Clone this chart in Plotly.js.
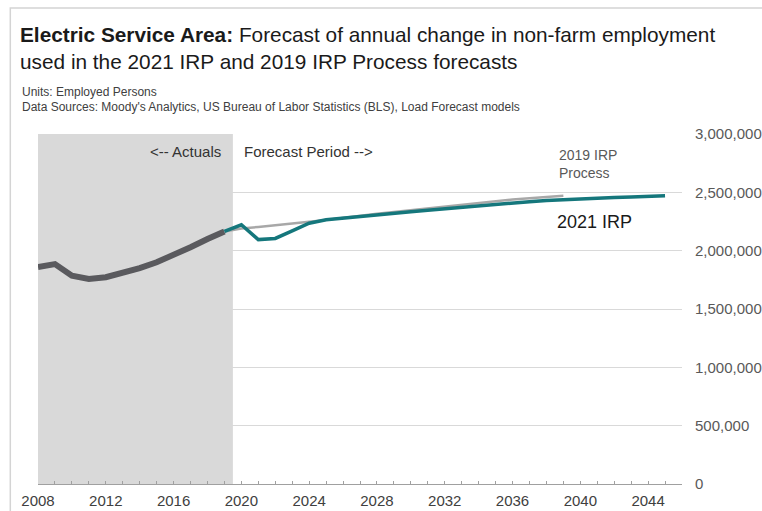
<!DOCTYPE html>
<html>
<head>
<meta charset="utf-8">
<script src="https://cdn.plot.ly/plotly-3.0.1.min.js"></script>
<style>
  html, body { margin: 0; padding: 0; background: #ffffff; }
  #chart { width: 762px; height: 511px; }
</style>
</head>
<body>
<div id="chart"></div>
<script>
// ---- Data ----
const actualYears = [2008, 2009, 2010, 2011, 2012, 2013, 2014, 2015, 2016, 2017, 2018, 2019];
const actualValues = [1860000, 1885000, 1785000, 1757000, 1772000, 1805000, 1850000, 1900000, 1960000, 2030000, 2100000, 2165000];

const irp2021Years = [2019, 2020, 2021, 2022, 2023, 2024, 2025, 2026, 2027, 2028, 2029, 2030, 2031, 2032,
  2033, 2034, 2035, 2036, 2037, 2038, 2039, 2040, 2041, 2042, 2043, 2044, 2045];
const irp2021Values = [2165000, 2222000, 2095000, 2105000, 2170000, 2235000, 2265000, 2280000, 2293000, 2306000,
  2320000, 2334000, 2347000, 2360000, 2373000, 2386000, 2398000, 2410000, 2420000, 2429000, 2437000, 2444000,
  2450000, 2455000, 2460000, 2465000, 2470000];

const irp2019Years = [2019, 2020, 2021, 2022, 2023, 2024, 2025, 2026, 2027, 2028, 2029, 2030, 2031, 2032,
  2033, 2034, 2035, 2036, 2037, 2038, 2039];
const irp2019Values = [2165000, 2190000, 2203000, 2216000, 2231000, 2247000, 2264000, 2283000, 2300000, 2316000,
  2332000, 2348000, 2364000, 2380000, 2395000, 2410000, 2424000, 2438000, 2450000, 2461000, 2470000];

const actualsEndYear = 2019.5;   // boundary of the shaded "Actuals" period
const xTickVals = [2008, 2012, 2016, 2020, 2024, 2028, 2032, 2036, 2040, 2044];
const xTickText = ['2008', '2012', '2016', '2020', '2024', '2028', '2032', '2036', '2040', '2044'];
const yTickVals = [0, 500000, 1000000, 1500000, 2000000, 2500000, 3000000];

const FONT = 'Arial, "Liberation Sans", sans-serif';

const traces = [
  {
    x: actualYears, y: actualValues, type: 'scatter', mode: 'lines', name: 'Actuals',
    line: { color: '#5a5a5e', width: 6 }, hoverinfo: 'skip'
  },
  {
    x: irp2019Years, y: irp2019Values, type: 'scatter', mode: 'lines', name: '2019 IRP Process',
    line: { color: '#a8a8a8', width: 2.5 }, hoverinfo: 'skip'
  },
  {
    x: irp2021Years, y: irp2021Values, type: 'scatter', mode: 'lines', name: '2021 IRP',
    line: { color: '#15777c', width: 3.5 }, hoverinfo: 'skip'
  }
];

const layout = {
  width: 762, height: 511,
  margin: { l: 37.5, r: 80, t: 134, b: 27 },
  paper_bgcolor: '#ffffff',
  plot_bgcolor: 'rgba(0,0,0,0)',
  showlegend: false,
  font: { family: FONT, color: '#404040' },
  title: {
    text: '<b>Electric Service Area:</b> Forecast of annual change in non-farm employment<br>used in the 2021 IRP and 2019 IRP Process forecasts',
    font: { family: FONT, size: 20.8, color: '#1a1a1a' },
    xref: 'container', yref: 'container',
    x: 20 / 762, xanchor: 'left',
    y: 1 - 42 / 511, yanchor: 'top'
  },
  xaxis: {
    range: [2008, 2046],
    tickvals: xTickVals, ticktext: xTickText,
    ticks: 'inside', ticklen: 3, tickcolor: '#a0a0a0',
    minor: { dtick: 1, tick0: 2008, ticks: 'inside', ticklen: 3, tickcolor: '#a0a0a0', showgrid: false },
    showline: true, linecolor: '#a0a0a0', linewidth: 1,
    showgrid: false, zeroline: false,
    ticklabelstandoff: 3,
    tickfont: { family: FONT, size: 15, color: '#404040' },
    fixedrange: true
  },
  yaxis: {
    range: [0, 3000000],
    side: 'right',
    tickvals: yTickVals, tickformat: ',d',
    showgrid: true, gridcolor: '#d9d9d9', gridwidth: 1,
    zeroline: false, showline: false, ticks: '',
    ticklabelstandoff: 12,
    tickfont: { family: FONT, size: 15, color: '#595959' },
    fixedrange: true
  },
  shapes: [
    {
      type: 'rect', xref: 'x', yref: 'y', layer: 'below',
      x0: 2008, x1: actualsEndYear, y0: 0, y1: 3000000,
      fillcolor: '#d9d9d9', line: { width: 0 }
    },
    {
      type: 'rect', xref: 'paper', yref: 'paper', layer: 'below',
      x0: -0.043, x1: 1.2, y0: -0.2, y1: 1.36,
      fillcolor: 'rgba(0,0,0,0)', line: { color: '#d4d4d4', width: 1.5 }
    }
  ],
  annotations: [
    {
      text: 'Units: Employed Persons', xref: 'paper', yref: 'paper',
      x: 0, xshift: -18, xanchor: 'left', y: 1.121, yanchor: 'middle',
      showarrow: false, font: { family: FONT, size: 12, color: '#404040' }
    },
    {
      text: "Data Sources: Moody's Analytics, US Bureau of Labor Statistics (BLS), Load Forecast models",
      xref: 'paper', yref: 'paper',
      x: 0, xshift: -18, xanchor: 'left', y: 1.078, yanchor: 'middle',
      showarrow: false, font: { family: FONT, size: 12, color: '#404040' }
    },
    {
      text: '<-- Actuals', xref: 'x', yref: 'y', x: actualsEndYear, xshift: -10, xanchor: 'right',
      y: 2854000, yanchor: 'middle', showarrow: false,
      font: { family: FONT, size: 15, color: '#333333' }
    },
    {
      text: 'Forecast Period -->', xref: 'x', yref: 'y', x: actualsEndYear, xshift: 9, xanchor: 'left',
      y: 2854000, yanchor: 'middle', showarrow: false,
      font: { family: FONT, size: 15, color: '#333333' }
    },
    {
      text: '2019 IRP<br>Process', xref: 'x', yref: 'y', x: 2038.6, xanchor: 'left', align: 'left',
      y: 2740000, yanchor: 'middle', showarrow: false,
      font: { family: FONT, size: 14, color: '#595959' }
    },
    {
      text: '2021 IRP', xref: 'x', yref: 'y', x: 2038.5, xanchor: 'left',
      y: 2246000, yanchor: 'middle', showarrow: false,
      font: { family: FONT, size: 18, color: '#1a1a1a' }
    }
  ]
};

Plotly.newPlot('chart', traces, layout, { displayModeBar: false, staticPlot: true });
</script>
</body>
</html>
